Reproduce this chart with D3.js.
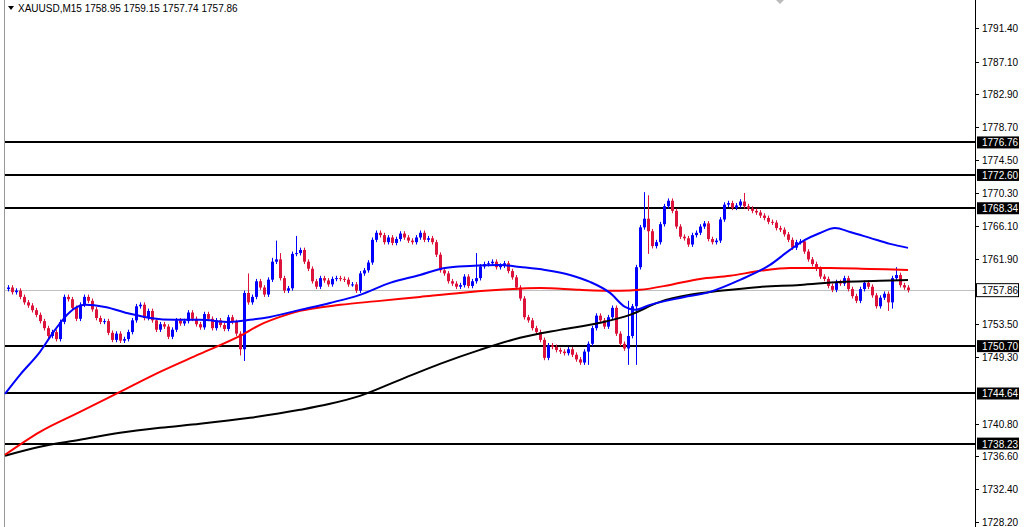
<!DOCTYPE html>
<html><head><meta charset="utf-8">
<script src="https://cdn.jsdelivr.net/npm/d3@7"></script>
<style>body{margin:0;background:#fff}svg{display:block;font-family:"Liberation Sans",Arial,sans-serif}</style>
</head><body><svg id="c" width="1024" height="527"></svg>
<script>
const closes = [
1758.2,1757.6,1757.8,1757.0,1756.3,1755.9,1755.3,1754.7,1753.9,1753.0,
1752.0,1752.5,1751.6,1753.8,1757.0,1756.7,1755.6,1754.2,1756.0,1757.0,
1756.5,1755.4,1754.3,1753.8,1753.9,1752.4,1751.5,1752.3,1751.4,1751.6,
1752.5,1754.0,1755.8,1756.0,1754.3,1755.2,1754.0,1752.8,1753.5,1753.2,
1751.9,1752.8,1754.0,1753.6,1753.9,1755.0,1754.2,1753.5,1753.1,1754.8,
1754.2,1753.0,1754.0,1753.4,1752.9,1754.4,1753.8,1752.3,1750.3,1757.5,
1756.3,1757.0,1759.0,1758.2,1757.3,1759.2,1761.5,1761.8,1759.4,1757.8,
1758.1,1762.5,1762.6,1763.0,1761.5,1760.6,1759.0,1758.3,1759.4,1759.1,
1758.6,1759.3,1759.4,1759.3,1759.2,1758.6,1758.6,1757.8,1760.0,1760.4,
1761.4,1764.3,1765.2,1764.9,1764.0,1764.6,1763.9,1764.4,1765.1,1764.6,
1764.2,1764.0,1764.6,1765.2,1764.3,1764.5,1764.0,1762.4,1760.4,1760.0,
1759.0,1758.7,1758.3,1758.5,1759.6,1758.4,1759.0,1759.4,1760.9,1761.2,
1761.3,1761.5,1760.8,1761.0,1761.3,1760.3,1759.5,1758.2,1756.8,1754.4,
1754.0,1753.0,1752.5,1751.5,1749.2,1750.8,1750.6,1750.2,1750.0,1749.8,
1750.3,1749.6,1749.0,1748.6,1750.0,1751.0,1753.0,1754.6,1754.0,1753.2,
1754.4,1755.6,1752.3,1751.0,1750.4,1752.0,1755.8,1760.8,1765.9,1767.0,
1765.4,1763.5,1764.0,1766.3,1768.6,1769.3,1768.0,1766.0,1764.7,1764.5,
1763.7,1764.9,1765.2,1766.0,1766.4,1764.4,1764.0,1764.2,1766.9,1768.8,
1769.0,1768.4,1768.7,1769.2,1768.6,1768.3,1768.0,1767.8,1767.4,1767.1,
1766.6,1766.5,1765.8,1765.6,1765.0,1764.3,1763.3,1764.0,1764.1,1762.8,
1761.8,1761.2,1760.6,1759.6,1759.3,1758.4,1757.9,1758.9,1758.7,1759.4,
1758.0,1757.1,1756.5,1758.0,1758.8,1758.3,1757.2,1755.8,1756.9,1757.4,
1756.3,1759.4,1759.8,1758.5,1758.2,1757.86];
const firstOpen = 1758.0;
const wickHighIdx = [67,68,72,159,160,184,222,60,66,117,155,157];
const wickHighVal = [1764.2,1762.6,1764.8,1770.4,1770.0,1770.3,1760.8,1760.0,1762.0,1762.6,1756.5,1756.0];
const wickLowIdx = [58,59,135,145,155,157,160,220,221];
const wickLowVal = [1749.5,1748.8,1749.0,1748.3,1748.3,1748.3,1762.5,1755.2,1755.5];

const blueIdx = [-0.75,3,8,11.75,15.5,19.25,24.25,30.5,35.5,41.75,48,55.5,60.5,65.5,73,80.5,88,95.5,103,109.25,115.5,123,128,134.25,140.5,145.5,150.5,154.25,156.75,160.5,168,175.5,183,190.5,195.5,199.25,203,206.75,210.5,215.5,220.5,225];
const blueVal = [1744.60,1747.03,1749.97,1752.78,1755.08,1755.98,1755.72,1754.83,1754.31,1754.06,1754.06,1753.80,1754.06,1754.44,1755.34,1756.23,1757.26,1758.79,1759.81,1760.71,1760.96,1761.09,1760.83,1760.45,1759.81,1758.92,1757.51,1755.72,1755.34,1755.98,1756.87,1757.64,1759.17,1761.09,1763.01,1764.29,1765.18,1765.82,1765.31,1764.55,1763.78,1763.27];
const redIdx = [-0.75,8,18,28,38,48,58,63,68,73,83,93,103,113,123,133,143,153,158,165.5,173,180.5,188,195.5,205.5,215.5,225];
const redVal = [1736.80,1739.74,1742.29,1744.85,1747.41,1749.71,1752.01,1753.42,1754.44,1755.21,1755.98,1756.49,1757.00,1757.51,1757.90,1758.15,1757.90,1757.77,1757.90,1758.53,1759.30,1759.69,1760.33,1760.71,1760.71,1760.58,1760.45];
const blackIdx = [-0.75,8,18,28,38,48,60.5,73,80.5,88,98,108,118,128,138,148,155.5,163,170.5,178,188,198,208,218,225];
const blackVal = [1736.67,1737.82,1738.71,1739.61,1740.25,1740.76,1741.53,1742.55,1743.32,1744.34,1746.39,1748.43,1750.22,1751.76,1752.78,1753.68,1754.70,1756.36,1757.26,1757.77,1758.28,1758.53,1758.92,1759.05,1759.17];
const levels = [1776.76,1772.60,1768.34,1750.70,1744.64,1738.23];
const lastPrice = 1757.86;
const ticks = [1791.40,1787.10,1782.90,1778.70,1774.50,1770.30,1766.10,1761.90,1753.50,1749.30,1740.80,1736.60,1732.40,1728.20];
const title = "XAUUSD,M15  1758.95 1759.15 1757.74 1757.86";

const svg = d3.select("#c");
const y = d3.scaleLinear().domain([1728.2,1791.4]).range([522,28]);
const x = d3.scaleLinear().domain([0,225]).range([8,908]);
const axisX = 975;

svg.append("line").attr("x1",4.5).attr("x2",4.5).attr("y1",0).attr("y2",527).attr("stroke","#999");
svg.append("line").attr("x1",axisX+0.5).attr("x2",axisX+0.5).attr("y1",0).attr("y2",527).attr("stroke","#000");

svg.append("line").attr("x1",5).attr("x2",axisX).attr("y1",Math.round(y(lastPrice))+0.5).attr("y2",Math.round(y(lastPrice))+0.5).attr("stroke","#c0c0c0");

svg.selectAll(".lv").data(levels).join("line").attr("x1",5).attr("x2",axisX)
  .attr("y1",d=>Math.round(y(d))).attr("y2",d=>Math.round(y(d))).attr("stroke","#000").attr("stroke-width",2);

const candles = closes.map((c,i)=>{
  const o = i===0?firstOpen:closes[i-1];
  let h = Math.max(o,c)+0.3, l = Math.min(o,c)-0.3;
  const hi = wickHighIdx.indexOf(i); if(hi>=0) h = Math.max(h,wickHighVal[hi]);
  const li = wickLowIdx.indexOf(i); if(li>=0) l = Math.min(l,wickLowVal[li]);
  return {i,o,c,h,l};
});
const col = d=>d.c>=d.o?"#0000ff":"#dc143c";
const g = svg.append("g");
g.selectAll(".w").data(candles).join("line")
  .attr("x1",d=>Math.round(x(d.i))+0.5).attr("x2",d=>Math.round(x(d.i))+0.5)
  .attr("y1",d=>y(d.h)).attr("y2",d=>y(d.l)).attr("stroke",col);
g.selectAll(".b").data(candles).join("rect")
  .attr("x",d=>Math.round(x(d.i))-1).attr("width",3)
  .attr("y",d=>y(Math.max(d.o,d.c))).attr("height",d=>Math.max(1,Math.abs(y(d.o)-y(d.c))))
  .attr("fill",col);

const line = d3.line().x(d=>x(d[0])).y(d=>y(d[1])).curve(d3.curveMonotoneX);
[[blackIdx,blackVal,"#000"],[redIdx,redVal,"#ff0000"],[blueIdx,blueVal,"#0000ff"]].forEach(([ix,vv,c])=>{
  svg.append("path").datum(ix.map((v,k)=>[v,vv[k]])).attr("d",line).attr("fill","none").attr("stroke",c).attr("stroke-width",2);
});

const ax = svg.append("g").attr("font-size",10);
ticks.forEach(t=>{
  const yy = Math.round(y(t));
  ax.append("line").attr("x1",axisX).attr("x2",axisX+4).attr("y1",yy+0.5).attr("y2",yy+0.5).attr("stroke","#000");
  ax.append("text").attr("x",982).attr("y",yy+4).text(t.toFixed(2)).attr("fill","#000");
});
levels.forEach(t=>{
  const yy = y(t);
  ax.append("rect").attr("x",axisX+2).attr("y",yy-6).attr("width",42).attr("height",12).attr("fill","#000");
  ax.append("text").attr("x",982).attr("y",yy+4).text(t.toFixed(2)).attr("fill","#fff");
});
{
  const yy = y(lastPrice);
  ax.append("rect").attr("x",axisX+1.5).attr("y",yy-6.5).attr("width",42).attr("height",13).attr("fill","#fff").attr("stroke","#000");
  ax.append("text").attr("x",982).attr("y",yy+4).text(lastPrice.toFixed(2)).attr("fill","#000");
}
svg.append("path").attr("d","M8,6 L14,6 L11,10 Z").attr("fill","#000");
svg.append("text").attr("x",18).attr("y",12).attr("font-size",10).text(title);
svg.append("path").attr("d","M776,0 L784,0 L780,4 Z").attr("fill","#bbb");
</script></body></html>
